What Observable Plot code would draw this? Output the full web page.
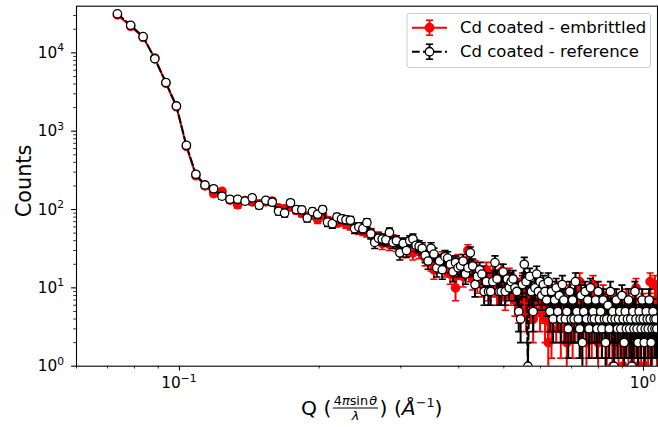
<!DOCTYPE html>
<html><head><meta charset="utf-8">
<script src="https://cdn.jsdelivr.net/npm/d3@7"></script>
<script src="https://cdn.jsdelivr.net/npm/@observablehq/plot@0.6"></script>
<style>
html,body{margin:0;padding:0;background:#fff;}
#chart svg{display:block;}
</style></head><body><div id="chart"></div>
<script>
// Q values (Å^-1)
const q = [
0.0735,0.0785,0.0835,0.0885,0.0935,0.0985,0.1035,0.1085,0.1135,0.1185,
0.1235,0.1285,0.1335,0.1385,0.1435,0.1485,0.1535,0.1585,0.1635,0.1685,
0.1735,0.1785,0.1835,0.1885,0.1935,0.1985,0.2035,0.2085,0.2135,0.2185,
0.2235,0.2285,0.2335,0.2385,0.2435,0.2485,0.2535,0.2585,0.2635,0.2685,
0.2735,0.2785,0.2835,0.2885,0.2935,0.2985,0.3035,0.3085,0.3135,0.3185,
0.3235,0.3285,0.3335,0.3385,0.3435,0.3485,0.3535,0.3585,0.3635,0.3685,
0.3735,0.3785,0.3835,0.3885,0.3935,0.3985,0.4035,0.4085,0.4135,0.4185,
0.4235,0.4285,0.4335,0.4385,0.4435,0.4485,0.4535,0.4585,0.4635,0.4685,
0.4735,0.4785,0.4835,0.4885,0.4935,0.4985,0.5035,0.5085,0.5135,0.5185,
0.5235,0.5285,0.5335,0.5385,0.5435,0.5485,0.5535,0.5585,0.5635,0.5685,
0.5735,0.5785,0.5835,0.5885,0.5935,0.5985,0.6035,0.6085,0.6135,0.6185,
0.6235,0.6285,0.6335,0.6385,0.6435,0.6485,0.6535,0.6585,0.6635,0.6685,
0.6735,0.6785,0.6835,0.6885,0.6935,0.6985,0.7035,0.7085,0.7135,0.7185,
0.7235,0.7285,0.7335,0.7385,0.7435,0.7485,0.7535,0.7585,0.7635,0.7685,
0.7735,0.7785,0.7835,0.7885,0.7935,0.7985,0.8035,0.8085,0.8135,0.8185,
0.8235,0.8285,0.8335,0.8385,0.8435,0.8485,0.8535,0.8585,0.8635,0.8685,
0.8735,0.8785,0.8835,0.8885,0.8935,0.8985,0.9035,0.9085,0.9135,0.9185,
0.9235,0.9285,0.9335,0.9385,0.9435,0.9485,0.9535,0.9585,0.9635,0.9685,
0.9735,0.9785,0.9835,0.9885,0.9935,0.9985,1.0035,1.0085,1.0135,1.0185,
1.0235,1.0285,1.0335,1.0385,1.0435,1.0485,1.0535,1.0585,1.0635,1.0685];

// Counts, "Cd coated - embrittled"
const embrittled = [
30500,21800,15700,8600,4100,2050,640,270,200,160,
170,132,115,130,125,118,125,128,105,102,
108,98,90,82,85,75,84,72,70,68,
70,66,63,60,56,54,52,50,42,45,
37,40,36,41,35,33,30,36,31,28,
34,29,30,24,25,21,17,22,20,24,
18,21,15,19,10,22,17,14,20,30,
16,13,18,12,15,11,14,17,10,13,
15,11,9,13,16,10,8,12,14,9,
11,7,10,6,9,12,7,5,8,10,
6,4,9,7,12,5,8,6,4,7,
2,5,3,8,6,4,9,5,3,7,
4,6,2,8,4,5,3,6,4,9,
5,12,3,7,4,6,2,5,8,4,
3,11,5,4,7,2,6,4,3,8,
5,4,2,6,3,5,4,1,7,3,
5,4,2,6,3,4,1,5,3,7,
4,2,5,3,4,6,2,3,10,4,
1,3,5,2,4,6,3,1,4,5,
2,3,12,4,2,5,3,11,7,2];

// Counts, "Cd coated - reference"
const reference = [
31500,22500,16100,8400,4180,2100,661,282,206,184,
148,135,135,128,141,113,131,124,95,90,
122,100,99,78,94,87,100,69,66,80,
76,74,73,57,60,57,68,49,38,43,
42,41,51,38,40,28,37,30,40,42,
35,34,32,26,22,32,27,18,22,17,
25,24,20,16,21,18,19,22,15,18,
28,19,11,14,17,15,9,12,9,9,
12,21,13,9,9,16,9,13,10,12,
13,10,9,5,4,11,20,12,1,14,
9,5,10,15,9,12,8,11,9,7,
12,5,9,4,7,10,5,8,4,11,
7,4,5,3,9,4,7,4,12,5,
4,3,8,2,5,9,4,7,3,10,
4,5,4,7,3,9,4,5,3,7,
4,2,4,6,3,9,4,5,1,4,
7,3,4,5,3,8,4,2,5,3,
4,7,3,4,1,5,3,9,4,3,
2,5,4,3,7,4,2,3,5,4,
3,7,4,2,3,5,4,3,4,3];

const seriesNames = ["Cd coated - embrittled", "Cd coated - reference"];
const xMajorTicks = [0.1, 1];
const xMinorTicks = [0.06,0.07,0.08,0.09,0.2,0.3,0.4,0.5,0.6,0.7,0.8,0.9];
const yMajorTicks = [1, 10, 100, 1000, 10000];
const yMinorTicks = [2,3,4,5,6,7,8,9,20,30,40,50,60,70,80,90,200,300,400,500,600,700,800,900,
  2000,3000,4000,5000,6000,7000,8000,9000,20000,30000];
const xTickExp = ["−1", "0"];
const yTickExp = ["0", "1", "2", "3", "4"];

// Poisson (sqrt N) error bars
function rows(vals) {
  return q.map((x, i) => {
    const v = vals[i], e = Math.sqrt(v);
    return {x, y: v, lo: Math.max(v - e, 0.2), hi: v + e};
  });
}
const emb = rows(embrittled);
const ref = rows(reference);

const cap = {draw(ctx) { ctx.moveTo(-3.6, 0); ctx.lineTo(3.6, 0); }};

function series(data, color, fill, dash) {
  return [
    Plot.ruleX(data, {x: "x", y1: "lo", y2: "hi", stroke: color, strokeWidth: 2, clip: true}),
    Plot.dot(data, {x: "x", y: "lo", symbol: cap, fill: "none", stroke: color, strokeWidth: 1.6, clip: true}),
    Plot.dot(data, {x: "x", y: "hi", symbol: cap, fill: "none", stroke: color, strokeWidth: 1.6, clip: true}),
    Plot.line(data, {x: "x", y: "y", stroke: color, strokeWidth: 2, strokeDasharray: dash, clip: true}),
    Plot.dot(data, {x: "x", y: "y", r: 4.2, fill: fill, stroke: color, strokeWidth: 1.3, clip: true})
  ];
}

const chart = Plot.plot({
  width: 658, height: 427,
  marginLeft: 76, marginRight: 1, marginTop: 5.7, marginBottom: 61.3,
  style: {fontFamily: "DejaVu Sans", fontSize: "13.9px", background: "white", color: "black"},
  x: {type: "log", domain: [0.06, 1.072], label: null},
  y: {type: "log", domain: [1, 39400], label: null},
  marks: [
    ...series(emb, "red", "red", null),
    ...series(ref, "black", "white", "7.7 3.3"),
    Plot.frame({stroke: "black", strokeWidth: 1.1}),
    Plot.axisX({ticks: xMajorTicks, tickSize: 4.9, tickFormat: () => "", strokeWidth: 1.1, label: null}),
    Plot.axisX({ticks: xMinorTicks, tickSize: 2.8, tickFormat: () => "", strokeWidth: 0.8, label: null}),
    Plot.axisY({ticks: yMajorTicks, tickSize: 4.9, tickFormat: () => "", strokeWidth: 1.1, label: null}),
    Plot.axisY({ticks: yMinorTicks, tickSize: 2.8, tickFormat: () => "", strokeWidth: 0.8, label: null})
  ]
});
document.getElementById("chart").appendChild(chart);

const sx = chart.scale("x"), sy = chart.scale("y");
const svg = d3.select(chart);
const g = svg.append("g").attr("font-family", "DejaVu Sans").attr("fill", "black").attr("text-anchor", "start");

const tfs = 15.3, tsup = 10.7;
// x tick labels
xMajorTicks.forEach((v, i) => {
  const t = g.append("text").attr("x", sx.apply(v)).attr("y", 388).attr("font-size", tfs).attr("text-anchor", "middle");
  t.append("tspan").text("10");
  t.append("tspan").attr("font-size", tsup).attr("dy", -6.5).text(xTickExp[i]);
});
// y tick labels
yMajorTicks.forEach((v, i) => {
  const t = g.append("text").attr("x", 64).attr("y", sy.apply(v) + 5.6).attr("font-size", tfs).attr("text-anchor", "end");
  t.append("tspan").text("10");
  t.append("tspan").attr("font-size", tsup).attr("dy", -6.5).text(yTickExp[i]);
});

// y label
g.append("text").attr("transform", "translate(30.5,181) rotate(-90)").attr("text-anchor", "middle")
  .attr("font-size", 20.8).text("Counts");

// x label: Q (4π sinθ / λ) (Å^-1)
const base = 415;
const fs = 20.3, fsS = 12.8;
const tA = g.append("text").attr("x", 301).attr("y", base).attr("font-size", fs).attr("text-anchor", "start").text("Q (");
const wA = tA.node().getComputedTextLength();
const num = g.append("text").attr("y", base - 10.5).attr("font-size", fsS).attr("text-anchor", "middle");
num.append("tspan").text("4");
num.append("tspan").attr("font-style", "italic").text("π");
num.append("tspan").text("sin");
num.append("tspan").attr("font-style", "italic").attr("dx", 1.2).text("θ");
const wN = num.node().getComputedTextLength() + 1.2;
const fx0 = 301 + wA + 1.5;
num.attr("x", fx0 + 1 + wN / 2);
g.append("line").attr("x1", fx0).attr("x2", fx0 + wN + 2).attr("y1", base - 7).attr("y2", base - 7)
  .attr("stroke", "black").attr("stroke-width", 1);
g.append("text").attr("x", fx0 + 1 + wN / 2).attr("y", base + 4.5).attr("font-size", fsS)
  .attr("text-anchor", "middle").attr("font-style", "italic").text("λ");
const tB = g.append("text").attr("x", fx0 + wN + 3.5).attr("y", base).attr("font-size", fs).attr("text-anchor", "start");
tB.append("tspan").text(") (");
tB.append("tspan").attr("font-style", "italic").text("Å");
tB.append("tspan").attr("font-size", fsS).attr("dy", -8).text("−1");
tB.append("tspan").attr("dy", 8).text(")");

// legend
const lg = svg.append("g").attr("font-family", "DejaVu Sans").attr("text-anchor", "start");
lg.append("rect").attr("x", 407).attr("y", 13.5).attr("width", 243.5).attr("height", 54).attr("rx", 2.5)
  .attr("fill", "white").attr("fill-opacity", 0.8).attr("stroke", "#cccccc").attr("stroke-width", 1);
const legendRows = [
  {y: 27.7, color: "red", fill: "red", dash: null, name: seriesNames[0]},
  {y: 51.7, color: "black", fill: "white", dash: "7.7 3.3", name: seriesNames[1]}
];
legendRows.forEach(r => {
  lg.append("line").attr("x1", 412).attr("x2", 447).attr("y1", r.y).attr("y2", r.y)
    .attr("stroke", r.color).attr("stroke-width", 2).attr("stroke-dasharray", r.dash);
  lg.append("line").attr("x1", 429.5).attr("x2", 429.5).attr("y1", r.y - 7.5).attr("y2", r.y + 7.5)
    .attr("stroke", r.color).attr("stroke-width", 2);
  [-7.5, 7.5].forEach(d => lg.append("line").attr("x1", 425.9).attr("x2", 433.1).attr("y1", r.y + d).attr("y2", r.y + d)
    .attr("stroke", r.color).attr("stroke-width", 1.6));
  lg.append("circle").attr("cx", 429.5).attr("cy", r.y).attr("r", 4.2).attr("fill", r.fill)
    .attr("stroke", r.color).attr("stroke-width", 1.3);
  lg.append("text").attr("x", 460).attr("y", r.y + 5.5).attr("font-size", 16.5).attr("fill", "black")
    .attr("text-anchor", "start").text(r.name);
});
</script>
</body></html>
